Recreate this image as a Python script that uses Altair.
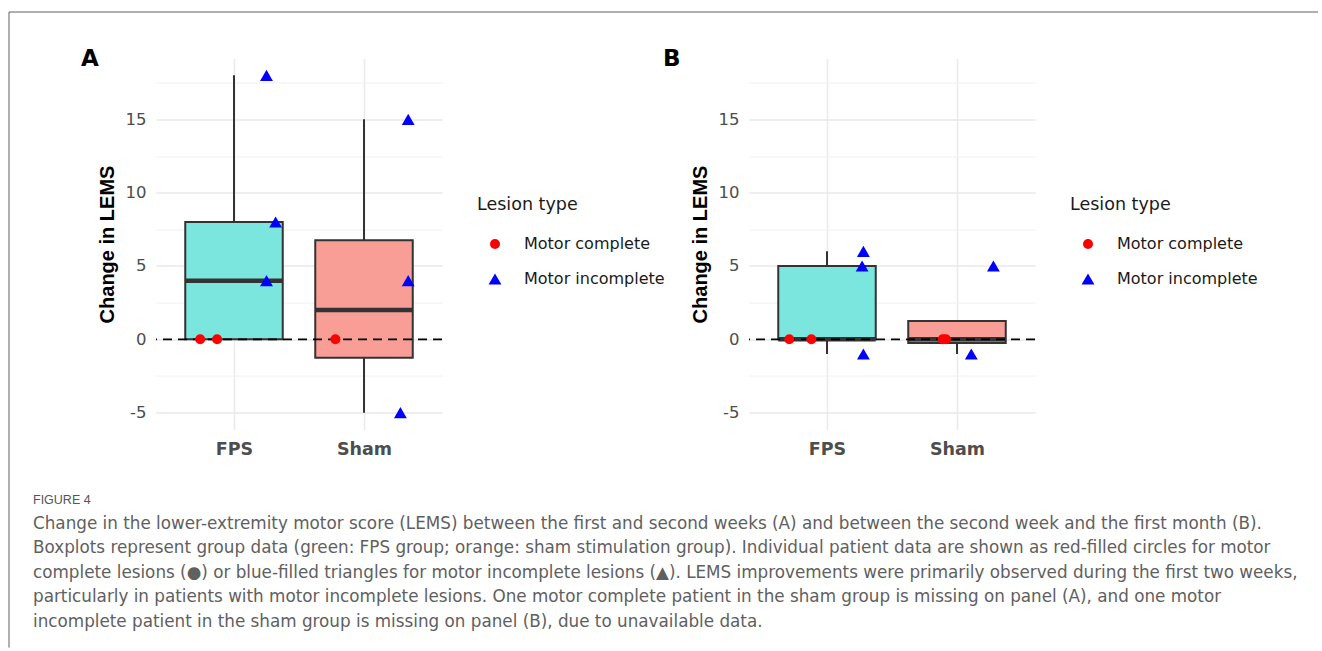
import altair as alt
import numpy as np
import pandas as pd

# ---------------- data ----------------
groups = ["FPS", "Sham"]
lesion_types = ["Motor complete", "Motor incomplete"]
MC, MI = lesion_types

# Panel A: change in LEMS between first and second week
a_group = ["FPS", "FPS", "FPS", "FPS", "FPS", "Sham", "Sham", "Sham", "Sham"]
a_lesion = [MC, MC, MI, MI, MI, MC, MI, MI, MI]
a_change = [0, 0, 18, 8, 4, 0, 15, 4, -5]
a_jitter = [-0.26, -0.13, 0.25, 0.32, 0.25, -0.22, 0.34, 0.34, 0.28]

# Panel B: change in LEMS between second week and first month
b_group = ["FPS", "FPS", "FPS", "FPS", "FPS", "Sham", "Sham", "Sham", "Sham"]
b_lesion = [MC, MC, MI, MI, MI, MC, MC, MI, MI]
b_change = [0, 0, 6, 5, -1, 0, 0, -1, 5]
b_jitter = [-0.29, -0.12, 0.28, 0.27, 0.28, -0.11, -0.085, 0.11, 0.28]

y_ticks = [-5, -2.5, 0, 2.5, 5, 7.5, 10, 12.5, 15, 17.5]
y_limits = [-6.15, 19.15]
x_limits = [0.4, 2.6]

caption_lines = [
    "FIGURE 4",
    "Change in the lower-extremity motor score (LEMS) between the first and second weeks (A) and between the second week and the first month (B).",
    "Boxplots represent group data (green: FPS group; orange: sham stimulation group). Individual patient data are shown as red-filled circles for motor",
    "complete lesions (\u25CF) or blue-filled triangles for motor incomplete lesions (\u25B2). LEMS improvements were primarily observed during the first two weeks,",
    "particularly in patients with motor incomplete lesions. One motor complete patient in the sham group is missing on panel (A), and one motor",
    "incomplete patient in the sham group is missing on panel (B), due to unavailable data.",
]

# ---------------- styles ----------------
box_colors = ["#7AE6DE", "#F99E96"]
point_colors = ["#FF0000", "#0000FF"]
point_shapes = ["circle", "triangle-up"]
point_sizes = [100, 165]
DARK = "#333333"
SANS = "DejaVu Sans"
CAP_GREY = "#606060"
PANEL_W, PANEL_H = 286, 371


def box_stats(df):
    rows = []
    for i, g in enumerate(groups, start=1):
        v = np.asarray(df.loc[df["group"] == g, "change"], dtype=float)
        q1, med, q3 = np.percentile(v, [25, 50, 75])
        iqr = q3 - q1
        inside = v[(v >= q1 - 1.5 * iqr) & (v <= q3 + 1.5 * iqr)]
        rows.append(dict(group=g, pos=i, q1=q1, med=med, q3=q3,
                         lo=min(q1, inside.min()), hi=max(q3, inside.max())))
    return pd.DataFrame(rows)


def panel(group, lesion, change, jitter, label, label_dx):
    pts = pd.DataFrame({"group": group, "lesion": lesion, "change": change, "jitter": jitter})
    pts["xpos"] = [groups.index(g) + 1 + j for g, j in zip(group, jitter)]
    stats = box_stats(pts)

    xs = alt.Scale(domain=x_limits, nice=False, zero=False)
    ys = alt.Scale(domain=y_limits, nice=False, zero=False)
    xax = alt.Axis(values=[1, 2], labelExpr="datum.value == 1 ? 'FPS' : 'Sham'", title=None,
                   grid=True, gridColor="#EBEBEB", gridWidth=1.6, ticks=False, tickSize=0,
                   domain=False, labelFont=SANS, labelFontWeight="bold", labelFontSize=17.5,
                   labelColor="#4D4D4D", labelPadding=10.5)
    yax = alt.Axis(values=y_ticks,
                   labelExpr="datum.value % 5 === 0 ? '' + datum.value : ''",
                   title="Change in LEMS", grid=True,
                   gridColor={"condition": {"test": "datum.value % 5 === 0", "value": "#E8E8E8"},
                              "value": "#F0F0F0"},
                   gridWidth={"condition": {"test": "datum.value % 5 === 0", "value": 1.6},
                              "value": 1.0},
                   ticks=False, tickSize=0, domain=False,
                   labelFont=SANS, labelFontSize=16.5, labelColor="#4D4D4D", labelPadding=10,
                   titleFont="Liberation Sans", titleFontWeight="bold", titleFontSize=20,
                   titleColor="black", titlePadding=8)
    leg = alt.Legend(title="Lesion type", orient="none", legendX=321, legendY=137,
                     titleFont=SANS, titleFontSize=17.5, titleFontWeight="normal",
                     titleColor="#1A1A1A", labelFont=SANS, labelFontSize=16,
                     labelColor="#1A1A1A", titlePadding=23, rowPadding=19,
                     symbolOffset=10, labelOffset=21, padding=0)

    whisk_hi = alt.Chart(stats).mark_rule(color=DARK, strokeWidth=2).encode(
        x=alt.X("pos:Q", scale=xs, axis=xax),
        y=alt.Y("q3:Q", scale=ys, axis=yax), y2="hi:Q")
    whisk_lo = alt.Chart(stats).mark_rule(color=DARK, strokeWidth=2).encode(
        x=alt.X("pos:Q", scale=xs, axis=xax),
        y=alt.Y("lo:Q", scale=ys, axis=yax), y2="q1:Q")
    box = alt.Chart(stats).transform_calculate(
        xl="datum.pos - 0.375", xr="datum.pos + 0.375"
    ).mark_rect(stroke=DARK, strokeWidth=2).encode(
        x=alt.X("xl:Q", scale=xs, axis=xax), x2="xr:Q",
        y=alt.Y("q1:Q", scale=ys, axis=yax), y2="q3:Q",
        fill=alt.Fill("group:N", scale=alt.Scale(domain=groups, range=box_colors), legend=None))
    median = alt.Chart(stats).transform_calculate(
        xl="datum.pos - 0.375", xr="datum.pos + 0.375"
    ).mark_rule(color=DARK, strokeWidth=4.5).encode(
        x=alt.X("xl:Q", scale=xs, axis=xax), x2="xr:Q",
        y=alt.Y("med:Q", scale=ys, axis=yax))
    zero = alt.Chart(pd.DataFrame({"ref": [0]})).mark_rule(
        color="black", strokeWidth=1.8, strokeDash=[9, 6]).encode(
        y=alt.Y("ref:Q", scale=ys, axis=yax))
    points = alt.Chart(pts).mark_point(filled=True, opacity=1, strokeWidth=0).encode(
        x=alt.X("xpos:Q", scale=xs, axis=xax),
        y=alt.Y("change:Q", scale=ys, axis=yax),
        color=alt.Color("lesion:N", scale=alt.Scale(domain=lesion_types, range=point_colors), legend=leg),
        shape=alt.Shape("lesion:N", scale=alt.Scale(domain=lesion_types, range=point_shapes), legend=leg),
        size=alt.Size("lesion:N", scale=alt.Scale(domain=lesion_types, range=point_sizes), legend=leg))

    return alt.layer(whisk_hi, whisk_lo, box, median, zero, points).properties(
        width=PANEL_W, height=PANEL_H,
        title=alt.TitleParams(text=label, anchor="start", frame="group", orient="top",
                              dx=label_dx, dy=30.5, offset=0, baseline="alphabetic",
                              font=SANS, fontSize=23, fontWeight="bold", color="black"))


pa = panel(a_group, a_lesion, a_change, a_jitter, "A", -75)
pb = panel(b_group, b_lesion, b_change, b_jitter, "B", -86)

panels = alt.hconcat(pa, pb, spacing=307, bounds="flush").resolve_scale(
    color="independent", shape="independent", size="independent", fill="independent"
).resolve_legend(color="independent", shape="independent", size="independent")

# ---------------- caption ----------------
cap_df = pd.DataFrame({"line": list(range(len(caption_lines))), "text": caption_lines})
cap_y = alt.Y("line:O", axis=None)
CAP_X = alt.value(-123)

head = alt.Chart(cap_df).transform_filter("datum.line == 0").mark_text(
    align="left", baseline="alphabetic", font="Liberation Sans", fontSize=12.5, color="#555555"
).encode(x=CAP_X, y=cap_y, text="text:N")
body = alt.Chart(cap_df).transform_filter("datum.line > 0").mark_text(
    align="left", baseline="alphabetic", font=SANS, fontSize=16.8, color=CAP_GREY, limit=1275
).encode(x=CAP_X, y=cap_y, text="text:N")

one = pd.DataFrame({"k": [0]})
frame_top = alt.Chart(one).mark_rule(color="#606060", strokeWidth=1).encode(
    x=alt.value(-147), x2=alt.value(1162), y=alt.value(-479.75))
frame_left = alt.Chart(one).mark_rule(color="#606060", strokeWidth=1).encode(
    x=alt.value(-147), y=alt.value(-479.75), y2=alt.value(155.75))
caption = alt.layer(frame_top, frame_left, head, body).properties(width=1000, height=147)

chart = alt.vconcat(panels, caption, spacing=PANEL_H + 62.25, bounds="flush").properties(
    padding={"left": 8, "top": 11.5, "right": 0, "bottom": 0},
    background="white",
).configure_view(strokeWidth=0)

chart.save("out.html", embed_options={"renderer": "svg", "actions": False})
